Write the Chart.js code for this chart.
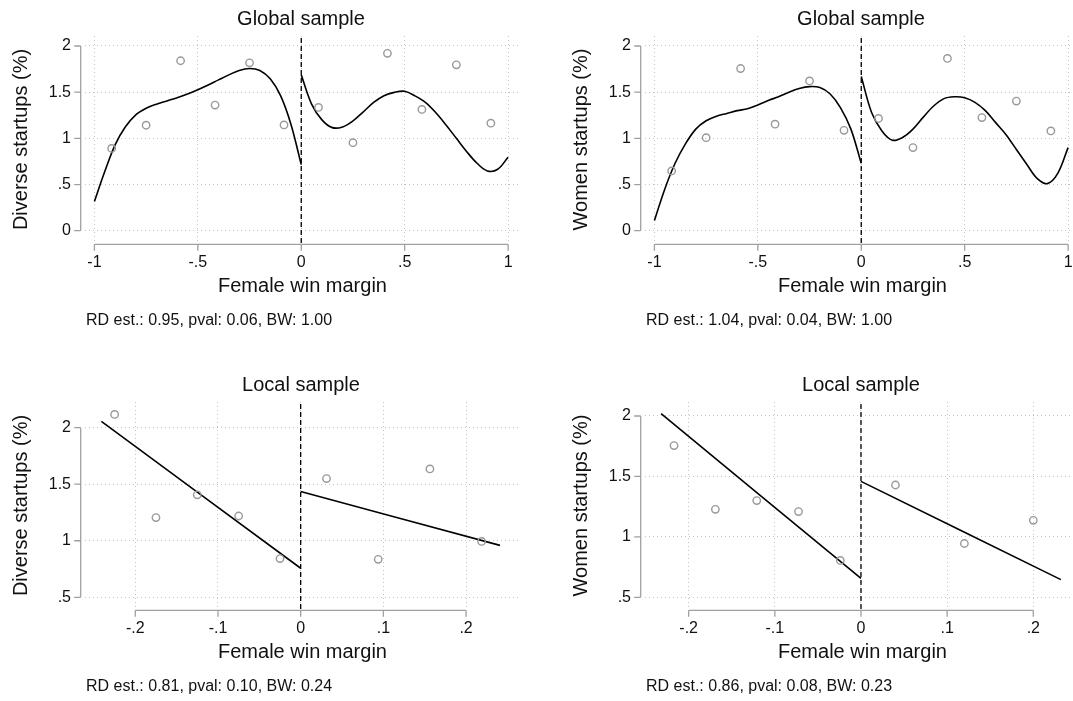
<!DOCTYPE html>
<html><head><meta charset="utf-8">
<script src="https://cdn.jsdelivr.net/npm/chart.js@4.4.1/dist/chart.umd.min.js"></script>
<style>
html,body{margin:0;padding:0;background:#fff;}
body{width:1073px;height:701px;overflow:hidden;position:relative;}
canvas{position:absolute;}
</style></head><body>
<canvas id="c1" width="602" height="366" style="left:0;top:0"></canvas>
<canvas id="c2" width="602" height="366" style="left:560px;top:0"></canvas>
<canvas id="c3" width="602" height="335" style="left:0;top:366px"></canvas>
<canvas id="c4" width="602" height="335" style="left:560px;top:366px"></canvas>
<script>
// ---------- text ----------
const panelTitles = ["Global sample", "Global sample", "Local sample", "Local sample"];
const yTitles = ["Diverse startups (%)", "Women startups (%)", "Diverse startups (%)", "Women startups (%)"];
const xTitle = "Female win margin";
const notes = [
  "RD est.: 0.95, pval: 0.06, BW: 1.00",
  "RD est.: 1.04, pval: 0.04, BW: 1.00",
  "RD est.: 0.81, pval: 0.10, BW: 0.24",
  "RD est.: 0.86, pval: 0.08, BW: 0.23"
];

// ---------- ticks ----------
const globalXTicks = [-1, -0.5, 0, 0.5, 1];
const globalXTickLabels = ["-1", "-.5", "0", ".5", "1"];
const globalYTicks = [0, 0.5, 1, 1.5, 2];
const globalYTickLabels = ["0", ".5", "1", "1.5", "2"];
const localXTicks = [-0.2, -0.1, 0, 0.1, 0.2];
const localXTickLabels = ["-.2", "-.1", "0", ".1", ".2"];
const localYTicks = [0.5, 1, 1.5, 2];
const localYTickLabels = [".5", "1", "1.5", "2"];

const cutoff = 0;

// ---------- global sample: binned means ----------
const globalBinX = [-0.9167, -0.75, -0.5833, -0.4167, -0.25, -0.0833, 0.0833, 0.25, 0.4167, 0.5833, 0.75, 0.9167];
const diverseGlobalY = [0.891, 1.142, 1.84, 1.36, 1.818, 1.145, 1.335, 0.953, 1.92, 1.313, 1.796, 1.164];
const womenGlobalY = [0.647, 1.007, 1.756, 1.153, 1.622, 1.087, 1.215, 0.90, 1.865, 1.225, 1.404, 1.08];

// ---------- global sample: polynomial fits ----------
const fitXLeft = [-1, -0.95, -0.9, -0.85, -0.8, -0.75, -0.7, -0.65, -0.6, -0.55, -0.5, -0.45, -0.4, -0.35, -0.3, -0.25, -0.2, -0.15, -0.1, -0.05, 0];
const fitXRight = [0, 0.05, 0.1, 0.15, 0.2, 0.25, 0.3, 0.35, 0.4, 0.45, 0.5, 0.55, 0.6, 0.65, 0.7, 0.75, 0.8, 0.85, 0.9, 0.95, 1];
const diverseGlobalFitLeft = [0.316, 0.64, 0.93, 1.125, 1.255, 1.325, 1.37, 1.405, 1.44, 1.48, 1.527, 1.578, 1.633, 1.687, 1.735, 1.756, 1.735, 1.644, 1.462, 1.153, 0.716];
const diverseGlobalFitRight = [1.687, 1.371, 1.2, 1.116, 1.124, 1.189, 1.287, 1.389, 1.462, 1.498, 1.51, 1.46, 1.39, 1.28, 1.145, 1.0, 0.856, 0.73, 0.647, 0.665, 0.796];
const womenGlobalFitLeft = [0.11, 0.45, 0.73, 0.94, 1.10, 1.19, 1.24, 1.27, 1.30, 1.32, 1.36, 1.41, 1.45, 1.50, 1.54, 1.56, 1.55, 1.48, 1.33, 1.10, 0.73];
const womenGlobalFitRight = [1.67, 1.28, 1.08, 0.98, 1.01, 1.10, 1.23, 1.35, 1.43, 1.45, 1.44, 1.39, 1.30, 1.17, 1.04, 0.88, 0.72, 0.567, 0.51, 0.62, 0.90];

// ---------- local sample ----------
const diverseLocalX = [-0.225, -0.175, -0.125, -0.075, -0.025, 0.03125, 0.09375, 0.15625, 0.21875];
const diverseLocalY = [2.117, 1.205, 1.406, 1.219, 0.842, 1.55, 0.836, 1.635, 0.994];
const diverseLocalFitLeftX = [-0.241, 0];
const diverseLocalFitLeftY = [2.056, 0.757];
const diverseLocalFitRightX = [0, 0.241];
const diverseLocalFitRightY = [1.436, 0.959];

const womenLocalX = [-0.217, -0.169, -0.121, -0.0725, -0.024, 0.04, 0.12, 0.20];
const womenLocalY = [1.755, 1.228, 1.30, 1.209, 0.805, 1.429, 0.945, 1.137];
const womenLocalFitLeftX = [-0.232, 0];
const womenLocalFitLeftY = [2.019, 0.657];
const womenLocalFitRightX = [0, 0.232];
const womenLocalFitRightY = [1.459, 0.646];

// ---------- helpers ----------
const zip = (xs, ys) => xs.map((x, i) => ({x: x, y: ys[i]}));
Chart.defaults.font.family = "'Liberation Sans', Arial, Helvetica, sans-serif";
Chart.defaults.color = '#111';

const AXIS_GRAY = '#a0a0a0';
const stataAxes = {
  id: 'stataAxes',
  afterDraw(chart, args, opts) {
    const ctx = chart.ctx, a = chart.chartArea, xs = chart.scales.x, ys = chart.scales.y;
    ctx.save();
    ctx.strokeStyle = AXIS_GRAY;
    ctx.lineWidth = 1.3;
    ctx.beginPath();
    const ax = a.left - 4.3;
    const ty = ys.ticks.map(t => ys.getPixelForValue(t.value));
    ctx.moveTo(ax, Math.max(...ty)); ctx.lineTo(ax, Math.min(...ty));
    ty.forEach(p => { ctx.moveTo(ax, p); ctx.lineTo(ax - 6.5, p); });
    const ay = a.bottom + 1.3;
    const tx = xs.ticks.map(t => xs.getPixelForValue(t.value));
    ctx.moveTo(Math.min(...tx), ay); ctx.lineTo(Math.max(...tx), ay);
    tx.forEach(p => { ctx.moveTo(p, ay); ctx.lineTo(p, ay + 6.5); });
    ctx.stroke();
    ctx.font = "16px 'Liberation Sans', Arial, sans-serif";
    ctx.fillStyle = '#111';
    ctx.textAlign = 'left';
    ctx.textBaseline = 'middle';
    ctx.fillText(opts.note, a.left + 1, 321);
    ctx.restore();
  }
};

function makePanel(id, p) {
  const datasets = [
    {data: zip(p.binX, p.binY), showLine: false, borderColor: '#999999', backgroundColor: 'rgba(0,0,0,0)',
     pointRadius: 3.7, pointBorderWidth: 1.4, pointHoverRadius: 3.7},
    {data: zip(p.fitLX, p.fitLY), showLine: true, borderColor: '#000', borderWidth: 1.6, pointRadius: 0,
     tension: 0.35, fill: false},
    {data: zip(p.fitRX, p.fitRY), showLine: true, borderColor: '#000', borderWidth: 1.6, pointRadius: 0,
     tension: 0.35, fill: false},
    {data: [{x: cutoff, y: p.yMin}, {x: cutoff, y: p.yMax}], showLine: true, borderColor: '#000', borderWidth: 1.3,
     borderDash: [5, 3], pointRadius: 0, fill: false}
  ];
  return new Chart(document.getElementById(id), {
    type: 'scatter',
    data: {datasets: datasets},
    options: {
      responsive: false, animation: false, events: [],
      layout: {padding: {left: 0, right: 0, top: 0, bottom: p.padBottom}},
      plugins: {
        legend: {display: false}, tooltip: {enabled: false},
        title: {display: true, text: p.title, color: '#111', font: {size: 20, weight: 'normal'}, padding: {top: 7, bottom: 5}},
        stataAxes: {note: p.note}
      },
      scales: {
        x: {
          type: 'linear', position: 'bottom', min: p.xMin, max: p.xMax,
          afterBuildTicks: s => { s.ticks = p.xTicks.map(v => ({value: v})); },
          afterFit: s => { s.height = 65; },
          ticks: {autoSkip: false, maxRotation: 0, minRotation: 0, padding: 9.5, font: {size: 16}, color: '#111',
                  callback: (v, i) => p.xLabels[i]},
          grid: {color: '#c4c4c4', lineWidth: 1, drawTicks: false},
          border: {display: false, dash: [1, 3]},
          title: {display: true, text: xTitle, color: '#111', font: {size: 20}, padding: {top: 0, bottom: 9.5}}
        },
        y: {
          type: 'linear', position: 'left', min: p.yMin, max: p.yMax,
          afterBuildTicks: s => { s.ticks = p.yTicks.map(v => ({value: v})); },
          afterFit: s => { s.width = 85; },
          ticks: {padding: 14, font: {size: 16}, color: '#111', callback: (v, i) => p.yLabels[i]},
          grid: {color: '#c4c4c4', lineWidth: 1, drawTicks: false},
          border: {display: false, dash: [1, 3]},
          title: {display: true, text: p.yTitle, color: '#111', font: {size: 20}, padding: {top: 9, bottom: 0}}
        },
        yPad: {
          type: 'linear', position: 'right', display: true,
          afterFit: s => { s.width = 82; },
          ticks: {display: false}, grid: {display: false}, border: {display: false}
        }
      }
    },
    plugins: [stataAxes]
  });
}

makePanel('c1', {
  title: panelTitles[0], yTitle: yTitles[0], note: notes[0], padBottom: 58,
  xMin: -1.0455, xMax: 1.0576, yMin: -0.133, yMax: 2.108,
  xTicks: globalXTicks, xLabels: globalXTickLabels, yTicks: globalYTicks, yLabels: globalYTickLabels,
  binX: globalBinX, binY: diverseGlobalY,
  fitLX: fitXLeft, fitLY: diverseGlobalFitLeft, fitRX: fitXRight, fitRY: diverseGlobalFitRight
});
makePanel('c2', {
  title: panelTitles[1], yTitle: yTitles[1], note: notes[1], padBottom: 58,
  xMin: -1.0455, xMax: 1.0576, yMin: -0.133, yMax: 2.108,
  xTicks: globalXTicks, xLabels: globalXTickLabels, yTicks: globalYTicks, yLabels: globalYTickLabels,
  binX: globalBinX, binY: womenGlobalY,
  fitLX: fitXLeft, fitLY: womenGlobalFitLeft, fitRX: fitXRight, fitRY: womenGlobalFitRight
});
makePanel('c3', {
  title: panelTitles[2], yTitle: yTitles[2], note: notes[2], padBottom: 27,
  xMin: -0.2608, xMax: 0.2652, yMin: 0.3965, yMax: 2.227,
  xTicks: localXTicks, xLabels: localXTickLabels, yTicks: localYTicks, yLabels: localYTickLabels,
  binX: diverseLocalX, binY: diverseLocalY,
  fitLX: diverseLocalFitLeftX, fitLY: diverseLocalFitLeftY, fitRX: diverseLocalFitRightX, fitRY: diverseLocalFitRightY
});
makePanel('c4', {
  title: panelTitles[3], yTitle: yTitles[3], note: notes[3], padBottom: 27,
  xMin: -0.2507, xMax: 0.2542, yMin: 0.4032, yMax: 2.1158,
  xTicks: localXTicks, xLabels: localXTickLabels, yTicks: localYTicks, yLabels: localYTickLabels,
  binX: womenLocalX, binY: womenLocalY,
  fitLX: womenLocalFitLeftX, fitLY: womenLocalFitLeftY, fitRX: womenLocalFitRightX, fitRY: womenLocalFitRightY
});
</script>
</body></html>
